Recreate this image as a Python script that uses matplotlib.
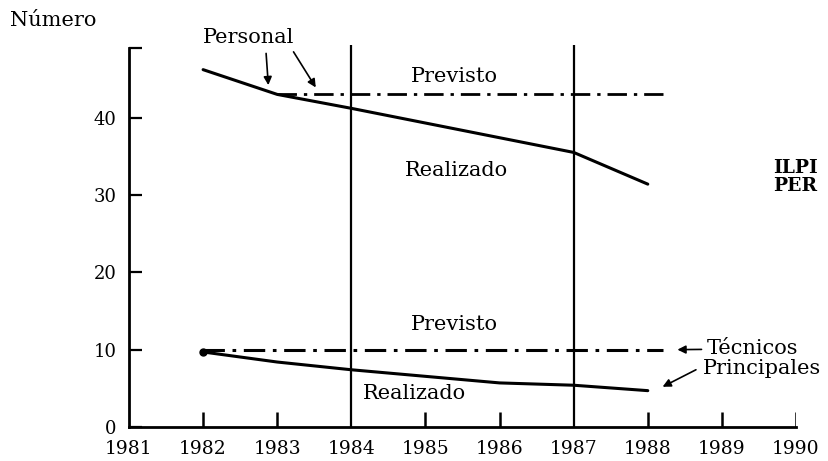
import matplotlib
matplotlib.use("Agg")
import matplotlib.pyplot as plt

plt.rcParams['font.family'] = ['DejaVu Serif']

# Data
years_personal_real = [1982, 1983, 1984, 1987, 1988]
personal_real = [46.2, 43.0, 41.2, 35.5, 31.4]
years_personal_prev = [1983, 1988.2]
personal_prev = [43.0, 43.0]
years_tec_real = [1982, 1983, 1984, 1986, 1987, 1988]
tec_real = [9.7, 8.4, 7.4, 5.7, 5.4, 4.7]
years_tec_prev = [1982, 1988.2]
tec_prev = [10.0, 10.0]
milestones = [1984, 1987]
xticks = [1982, 1983, 1985, 1986, 1988, 1989, 1990]
xlabels = [1981, 1982, 1983, 1984, 1985, 1986, 1987, 1988, 1989, 1990]
yticks = [0, 10, 20, 30, 40]

fig = plt.figure(figsize=(8.29, 4.61), dpi=100)
ax = fig.add_axes([129/829, (461-427)/461, (796-129)/829, (427-48)/461])
ax.set_xlim(1981, 1990)
ax.set_ylim(0, 49)

for s in ['top', 'right']:
    ax.spines[s].set_visible(False)
for s in ['left', 'bottom']:
    ax.spines[s].set_linewidth(2.0)

dash = (0, (7, 2.5, 1.2, 2.5))
ax.plot(years_personal_real, personal_real, color='black', lw=2.2, solid_capstyle='round')
ax.plot(years_personal_prev, personal_prev, color='black', lw=2.0, linestyle=dash)
ax.plot(years_tec_real, tec_real, color='black', lw=2.2, solid_capstyle='round')
ax.plot(years_tec_prev, tec_prev, color='black', lw=2.2, linestyle=dash)
ax.plot([years_tec_real[0]], [tec_real[0]], 'o', color='black', ms=5)
ax.vlines(milestones, 0, 49.4, color='black', lw=1.6, clip_on=False)

ax.set_yticks(yticks + [49])
ax.set_yticklabels([str(v) for v in yticks] + [''])
ax.set_xticks(xlabels)
ax.set_xticklabels([str(v) for v in xlabels])
ax.tick_params(axis='y', direction='in', length=9, width=1.6, pad=9, labelsize=13)
ax.tick_params(axis='x', direction='in', length=0, pad=9, labelsize=13.5)
ax.vlines(xticks, 0, 2.0, color='black', lw=1.8)

fs = 15
fig.text(10/829, 1-20/461, 'Número', fontsize=fs, va='center', ha='left')
ax.text(1982.0, 50.4, 'Personal', fontsize=fs, ha='left', va='center', clip_on=False)
ax.annotate('', xy=(1982.88, 44.2), xytext=(1982.85, 48.3),
            annotation_clip=False,
            arrowprops=dict(arrowstyle='-|>', color='black', lw=1.2, mutation_scale=12,
                            shrinkA=0, shrinkB=0))
ax.annotate('', xy=(1983.52, 43.9), xytext=(1983.22, 48.5),
            annotation_clip=False,
            arrowprops=dict(arrowstyle='-|>', color='black', lw=1.2, mutation_scale=12,
                            shrinkA=0, shrinkB=0))
ax.text(1984.8, 45.3, 'Previsto', fontsize=fs, ha='left', va='center')
ax.text(1984.72, 33.1, 'Realizado', fontsize=fs, ha='left', va='center')
ax.text(1984.8, 13.3, 'Previsto', fontsize=fs, ha='left', va='center')
ax.text(1984.15, 4.3, 'Realizado', fontsize=fs, ha='left', va='center')
ax.annotate('Técnicos', xy=(1988.4, 10.0), xytext=(1988.8, 10.1),
            fontsize=fs, ha='left', va='center', annotation_clip=False,
            arrowprops=dict(arrowstyle='-|>', color='black', lw=1.2, mutation_scale=12,
                            shrinkA=2, shrinkB=0))
ax.text(1988.75, 7.6, 'Principales', fontsize=fs, ha='left', va='center')
ax.annotate('', xy=(1988.2, 5.2), xytext=(1988.65, 7.4),
            annotation_clip=False,
            arrowprops=dict(arrowstyle='-|>', color='black', lw=1.2, mutation_scale=12,
                            shrinkA=0, shrinkB=0))
fig.text(773/829, 1-177/461, 'ILPI\nPER', fontsize=13.5, fontweight='bold',
         ha='left', va='center', linespacing=0.95)

fig.savefig('out.png', dpi=100)
